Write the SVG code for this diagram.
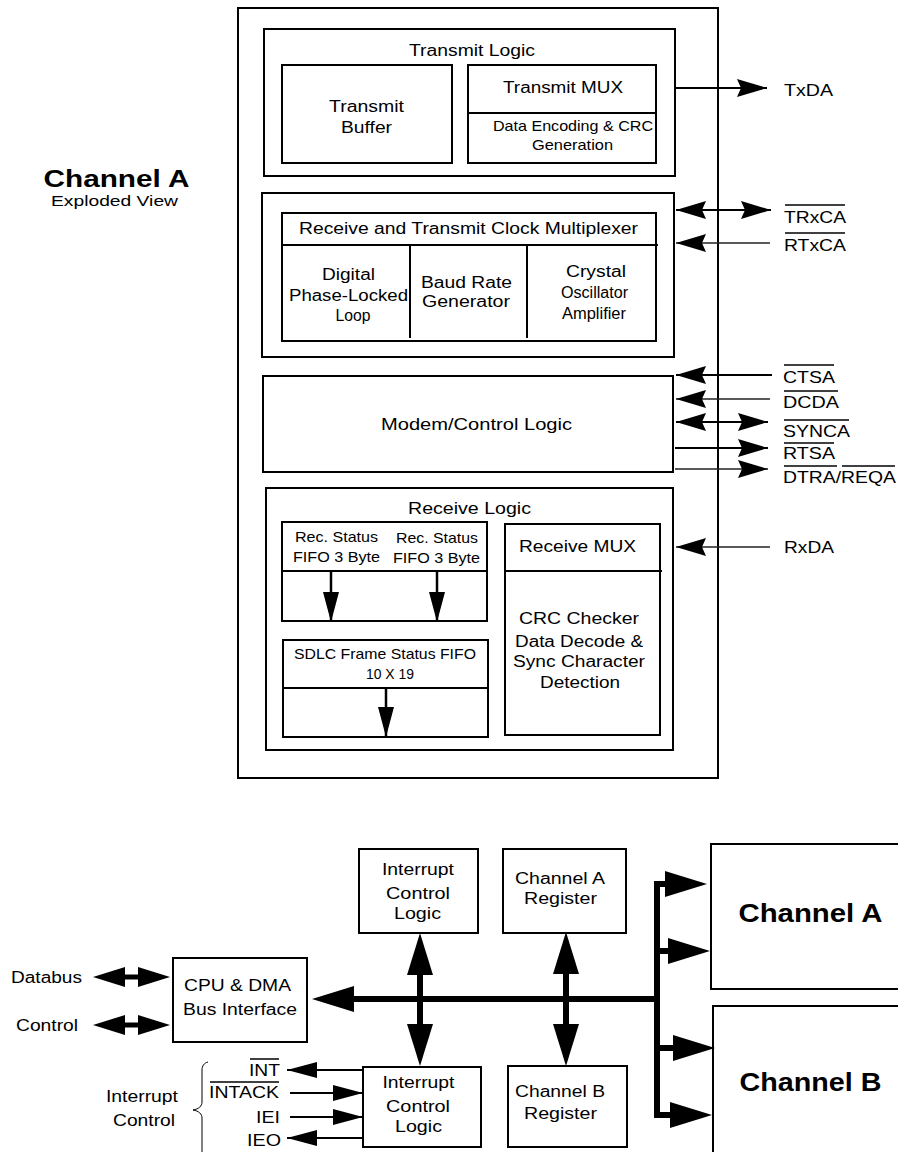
<svg xmlns="http://www.w3.org/2000/svg" width="898" height="1152" viewBox="0 0 898 1152">
<style>
.box{fill:#fff;stroke:#000;stroke-width:2}
.ln{fill:none;stroke:#000;stroke-width:2}
.t{font-family:"Liberation Sans",Arial,sans-serif;font-size:16px;fill:#000;text-anchor:middle}
.s{font-size:14.5px}
.sig{text-anchor:start;font-size:17px}
.end{text-anchor:end}
.b{font-weight:bold;font-size:24px}
.w{fill:none;stroke:#000;stroke-width:2}
.thin{stroke-width:1.3;stroke:#222}
.bus{stroke-width:6}
.db{stroke-width:5}
.ol{stroke:#000;stroke-width:1.5}
</style>
<defs>
<marker id="ah" viewBox="0 0 30 18" refX="30" refY="9" markerWidth="30" markerHeight="18" markerUnits="userSpaceOnUse" orient="auto-start-reverse"><path d="M0,0 L30,9 L0,18 L4,9 Z" fill="#000"/></marker>
<marker id="ah2" viewBox="0 0 30 16" refX="30" refY="8" markerWidth="30" markerHeight="16" markerUnits="userSpaceOnUse" orient="auto-start-reverse"><path d="M0,0 L30,8 L0,16 Z" fill="#000"/></marker>
<marker id="bh" viewBox="0 0 42 26" refX="10" refY="13" markerWidth="42" markerHeight="26" markerUnits="userSpaceOnUse" orient="auto-start-reverse"><path d="M0,0 L42,13 L0,26 Z" fill="#000"/></marker>
<marker id="dh" viewBox="0 0 32 20" refX="8" refY="10" markerWidth="32" markerHeight="20" markerUnits="userSpaceOnUse" orient="auto-start-reverse"><path d="M0,0 L32,10 L0,20 Z" fill="#000"/></marker>
</defs>
<rect width="898" height="1152" fill="#fff"/>

<g id="title">
<text class="t b" x="116.5" y="187" textLength="146" lengthAdjust="spacingAndGlyphs">Channel A</text>
<text class="t" style="font-size:15px" x="114.5" y="206" textLength="127" lengthAdjust="spacingAndGlyphs">Exploded View</text>
</g>

<g id="channel-a-exploded">
<rect class="box" x="238" y="8" width="480" height="770"/>
</g>

<g id="transmit-logic">
<rect class="box" x="264" y="29" width="411" height="147"/>
<text class="t" x="472" y="56" textLength="126" lengthAdjust="spacingAndGlyphs">Transmit Logic</text>
</g>
<g id="transmit-buffer">
<rect class="box" x="282" y="65" width="170" height="98"/>
<text class="t" x="366.5" y="112" textLength="75" lengthAdjust="spacingAndGlyphs">Transmit</text>
<text class="t" x="366.5" y="133" textLength="51" lengthAdjust="spacingAndGlyphs">Buffer</text>
</g>
<g id="transmit-mux">
<rect class="box" x="468" y="65" width="188" height="98"/>
<line class="ln" x1="468" y1="113" x2="656" y2="113"/>
<text class="t" x="563" y="93" textLength="120" lengthAdjust="spacingAndGlyphs">Transmit MUX</text>
<text class="t s" x="573" y="131" textLength="160" lengthAdjust="spacingAndGlyphs">Data Encoding &amp; CRC</text>
<text class="t s" x="572.5" y="150" textLength="81" lengthAdjust="spacingAndGlyphs">Generation</text>
</g>

<g id="clock-section">
<rect class="box" x="262" y="193" width="412" height="164"/>
</g>
<g id="clock-mux">
<rect class="box" x="282" y="213" width="374" height="128"/>
<line class="ln" x1="282" y1="245" x2="658" y2="245"/>
<line class="ln" x1="410" y1="245" x2="410" y2="338"/>
<line class="ln" x1="527" y1="245" x2="527" y2="338"/>
<text class="t" x="468.5" y="234" textLength="339" lengthAdjust="spacingAndGlyphs">Receive and Transmit Clock Multiplexer</text>
<text class="t" x="348.5" y="280" textLength="53" lengthAdjust="spacingAndGlyphs">Digital</text>
<text class="t" x="348.5" y="301" textLength="119" lengthAdjust="spacingAndGlyphs">Phase-Locked</text>
<text class="t" x="353" y="321" textLength="35" lengthAdjust="spacingAndGlyphs">Loop</text>
<text class="t" x="466.5" y="288" textLength="91" lengthAdjust="spacingAndGlyphs">Baud Rate</text>
<text class="t" x="466" y="307" textLength="88" lengthAdjust="spacingAndGlyphs">Generator</text>
<text class="t" x="596" y="277" textLength="60" lengthAdjust="spacingAndGlyphs">Crystal</text>
<text class="t" x="594.5" y="298" textLength="67" lengthAdjust="spacingAndGlyphs">Oscillator</text>
<text class="t" x="594" y="319" textLength="64" lengthAdjust="spacingAndGlyphs">Amplifier</text>
</g>

<g id="modem-control">
<rect class="box" x="263" y="376" width="410" height="96"/>
<text class="t" x="476.5" y="430" textLength="191" lengthAdjust="spacingAndGlyphs">Modem/Control Logic</text>
</g>

<g id="receive-logic">
<rect class="box" x="266" y="488" width="407" height="262"/>
<text class="t" x="469.5" y="514" textLength="123" lengthAdjust="spacingAndGlyphs">Receive Logic</text>
</g>
<g id="rec-status-fifo">
<rect class="box" x="282" y="522" width="205" height="99"/>
<line class="ln" x1="282" y1="571" x2="487" y2="571"/>
<text class="t s" x="336.5" y="542" textLength="83" lengthAdjust="spacingAndGlyphs">Rec. Status</text>
<text class="t s" x="336.5" y="562" textLength="87" lengthAdjust="spacingAndGlyphs">FIFO 3 Byte</text>
<text class="t s" x="437" y="543" textLength="82" lengthAdjust="spacingAndGlyphs">Rec. Status</text>
<text class="t s" x="436.5" y="563" textLength="87" lengthAdjust="spacingAndGlyphs">FIFO 3 Byte</text>
</g>
<g id="sdlc-fifo">
<rect class="box" x="283" y="640" width="205" height="97"/>
<line class="ln" x1="283" y1="688" x2="488" y2="688"/>
<text class="t s" x="385" y="659" textLength="182" lengthAdjust="spacingAndGlyphs">SDLC Frame Status FIFO</text>
<text class="t s" x="390" y="679" textLength="48" lengthAdjust="spacingAndGlyphs">10 X 19</text>
</g>
<g id="receive-mux">
<rect class="box" x="505" y="524" width="155" height="211"/>
<line class="ln" x1="505" y1="571" x2="662" y2="571"/>
<text class="t" x="577.5" y="552" textLength="117" lengthAdjust="spacingAndGlyphs">Receive MUX</text>
<text class="t" x="579" y="624" textLength="120" lengthAdjust="spacingAndGlyphs">CRC Checker</text>
<text class="t" x="579" y="647" textLength="128" lengthAdjust="spacingAndGlyphs">Data Decode &amp;</text>
<text class="t" x="579" y="667" textLength="132" lengthAdjust="spacingAndGlyphs">Sync Character</text>
<text class="t" x="580" y="688" textLength="80" lengthAdjust="spacingAndGlyphs">Detection</text>
</g>

<g id="signals">
<text class="t sig" x="784" y="96" textLength="49" lengthAdjust="spacingAndGlyphs">TxDA</text>
<text class="t sig" x="784" y="223" textLength="62" lengthAdjust="spacingAndGlyphs">TRxCA</text>
<line class="ol" x1="785" y1="205" x2="845" y2="205"/>
<text class="t sig" x="784" y="251" textLength="62" lengthAdjust="spacingAndGlyphs">RTxCA</text>
<line class="ol" x1="785" y1="233" x2="845" y2="233"/>
<text class="t sig" x="783" y="383" textLength="52" lengthAdjust="spacingAndGlyphs">CTSA</text>
<line class="ol" x1="784" y1="365" x2="834" y2="365"/>
<text class="t sig" x="783" y="408" textLength="56" lengthAdjust="spacingAndGlyphs">DCDA</text>
<line class="ol" x1="784" y1="391" x2="838" y2="391"/>
<text class="t sig" x="783" y="437" textLength="67" lengthAdjust="spacingAndGlyphs">SYNCA</text>
<line class="ol" x1="784" y1="420" x2="849" y2="420"/>
<text class="t sig" x="783" y="459" textLength="52" lengthAdjust="spacingAndGlyphs">RTSA</text>
<line class="ol" x1="784" y1="443" x2="834" y2="443"/>
<text class="t sig" x="783" y="483" textLength="113" lengthAdjust="spacingAndGlyphs">DTRA/REQA</text>
<line class="ol" x1="784" y1="466" x2="837" y2="466"/>
<line class="ol" x1="842" y1="466" x2="895" y2="466"/>
<text class="t sig" x="784" y="553" textLength="50" lengthAdjust="spacingAndGlyphs">RxDA</text>
</g>

<g id="int-ctrl-top">
<rect class="box" x="359" y="849" width="119" height="84"/>
<text class="t" x="418" y="875" textLength="72" lengthAdjust="spacingAndGlyphs">Interrupt</text>
<text class="t" x="418" y="899" textLength="64" lengthAdjust="spacingAndGlyphs">Control</text>
<text class="t" x="417.5" y="919" textLength="47" lengthAdjust="spacingAndGlyphs">Logic</text>
</g>
<g id="chan-a-reg">
<rect class="box" x="503" y="849" width="123" height="84"/>
<text class="t" x="560" y="884" textLength="90" lengthAdjust="spacingAndGlyphs">Channel A</text>
<text class="t" x="560.5" y="904" textLength="73" lengthAdjust="spacingAndGlyphs">Register</text>
</g>
<g id="cpu-dma">
<rect class="box" x="173" y="958" width="134" height="84"/>
<text class="t" x="237.5" y="991" textLength="107" lengthAdjust="spacingAndGlyphs">CPU &amp; DMA</text>
<text class="t" x="240" y="1015" textLength="114" lengthAdjust="spacingAndGlyphs">Bus Interface</text>
</g>
<g id="channel-a">
<rect class="box" x="711" y="844" width="200" height="145"/>
<text class="t b" style="font-size:26px" x="810.5" y="922" textLength="144" lengthAdjust="spacingAndGlyphs">Channel A</text>
</g>
<g id="channel-b">
<rect class="box" x="713" y="1006" width="200" height="200"/>
<text class="t b" style="font-size:26px" x="810.5" y="1091" textLength="142" lengthAdjust="spacingAndGlyphs">Channel B</text>
</g>
<g id="int-ctrl-bottom">
<rect class="box" x="363" y="1067" width="118" height="80"/>
<text class="t" x="418.5" y="1088" textLength="72" lengthAdjust="spacingAndGlyphs">Interrupt</text>
<text class="t" x="418" y="1112" textLength="64" lengthAdjust="spacingAndGlyphs">Control</text>
<text class="t" x="418.5" y="1132" textLength="47" lengthAdjust="spacingAndGlyphs">Logic</text>
</g>
<g id="chan-b-reg">
<rect class="box" x="508" y="1066" width="119" height="81"/>
<text class="t" x="560" y="1097" textLength="90" lengthAdjust="spacingAndGlyphs">Channel B</text>
<text class="t" x="560.5" y="1119" textLength="73" lengthAdjust="spacingAndGlyphs">Register</text>
</g>

<g id="external-labels">
<text class="t" x="46.5" y="983" textLength="71" lengthAdjust="spacingAndGlyphs">Databus</text>
<text class="t" x="47" y="1031" textLength="62" lengthAdjust="spacingAndGlyphs">Control</text>
<text class="t end" x="280" y="1076" textLength="31" lengthAdjust="spacingAndGlyphs">INT</text>
<line class="ol" x1="250" y1="1059" x2="279" y2="1059"/>
<text class="t end" x="279" y="1098" textLength="70" lengthAdjust="spacingAndGlyphs">INTACK</text>
<line class="ol" x1="210" y1="1082" x2="279" y2="1082"/>
<text class="t end" x="280" y="1123" textLength="24" lengthAdjust="spacingAndGlyphs">IEI</text>
<text class="t end" x="281" y="1146" textLength="34" lengthAdjust="spacingAndGlyphs">IEO</text>
<text class="t" x="142" y="1102" textLength="72" lengthAdjust="spacingAndGlyphs">Interrupt</text>
<text class="t" x="144" y="1126" textLength="62" lengthAdjust="spacingAndGlyphs">Control</text>
<path d="M208,1062 C204,1063 202,1066 202,1070 V1102 C202,1106 199,1109 193,1110 C199,1111 202,1114 202,1118 V1152" fill="none" stroke="#000" stroke-width="1"/>
</g>

<g id="connectors">
<line class="w" x1="675" y1="88" x2="767" y2="88" marker-end="url(#ah)"/>
<line class="w" x1="676" y1="210" x2="771" y2="210" marker-start="url(#ah)" marker-end="url(#ah)"/>
<line class="w thin" x1="770" y1="243" x2="676" y2="243" marker-end="url(#ah)"/>
<line class="w" x1="772" y1="375" x2="676" y2="375" marker-end="url(#ah)"/>
<line class="w thin" x1="770" y1="399" x2="676" y2="399" marker-end="url(#ah)"/>
<line class="w" x1="676" y1="422" x2="768" y2="422" marker-start="url(#ah)" marker-end="url(#ah)"/>
<line class="w" x1="675" y1="448" x2="768" y2="448" marker-end="url(#ah)"/>
<line class="w thin" x1="675" y1="469" x2="768" y2="469" marker-end="url(#ah)"/>
<line class="w thin" x1="770" y1="547" x2="676" y2="547" marker-end="url(#ah)"/>

<line class="w" style="stroke-width:2.5" x1="331" y1="571" x2="331" y2="622" marker-end="url(#ah2)"/>
<line class="w" style="stroke-width:2.5" x1="437" y1="571" x2="437" y2="622" marker-end="url(#ah2)"/>
<line class="w" style="stroke-width:2.5" x1="386" y1="688" x2="386" y2="737" marker-end="url(#ah2)"/>

<line class="w bus" x1="660" y1="999" x2="344" y2="999" marker-end="url(#bh)"/>
<line class="w bus" x1="657" y1="881" x2="657" y2="1118"/>
<line class="w bus" x1="654" y1="884" x2="675" y2="884" marker-end="url(#bh)"/>
<line class="w bus" x1="654" y1="951" x2="678" y2="951" marker-end="url(#bh)"/>
<line class="w bus" x1="654" y1="1048" x2="683" y2="1048" marker-end="url(#bh)"/>
<line class="w bus" x1="654" y1="1115" x2="680" y2="1115" marker-end="url(#bh)"/>
<line class="w bus" x1="420" y1="965" x2="420" y2="1034" marker-start="url(#bh)" marker-end="url(#bh)"/>
<line class="w bus" x1="566" y1="964" x2="566" y2="1034" marker-start="url(#bh)" marker-end="url(#bh)"/>

<line class="w db" x1="117" y1="977" x2="146" y2="977" marker-start="url(#dh)" marker-end="url(#dh)"/>
<line class="w db" x1="117" y1="1025" x2="146" y2="1025" marker-start="url(#dh)" marker-end="url(#dh)"/>

<line class="w" x1="363" y1="1070" x2="287" y2="1070" marker-end="url(#ah2)"/>
<line class="w" x1="290" y1="1093" x2="363" y2="1093" marker-end="url(#ah2)"/>
<line class="w" x1="290" y1="1117" x2="363" y2="1117" marker-end="url(#ah2)"/>
<line class="w" x1="363" y1="1138" x2="287" y2="1138" marker-end="url(#ah2)"/>
</g>
</svg>
